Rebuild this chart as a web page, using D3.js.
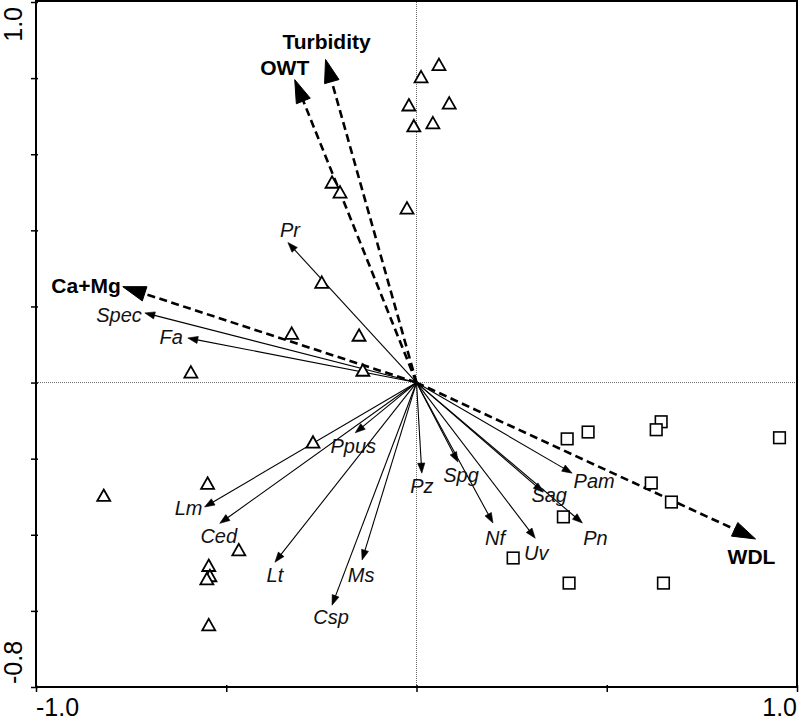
<!DOCTYPE html>
<html>
<head>
<meta charset="utf-8">
<script src="https://cdn.jsdelivr.net/npm/d3@7"></script>
<style>
  html, body { margin: 0; padding: 0; background: #fff; }
  svg { display: block; }
  text { font-family: Arial, "Liberation Sans", Helvetica, sans-serif; }
</style>
</head>
<body>
<svg id="chart" width="800" height="721"></svg>
<script>
// ---------------- data ----------------
const xTicks = [-1.0, -0.5, 0, 0.5, 1.0];
const yTicks = [-0.8, -0.6, -0.4, -0.2, 0, 0.2, 0.4, 0.6, 0.8, 1.0];
const xTickLabels = ["-1.0", "1.0"];
const xTickLabelValues = [-1.0, 1.0];
const yTickLabels = ["1.0", "-0.8"];
const yTickLabelValues = [1.0, -0.8];

// sites (triangles)
const triX = [-0.222, -0.201, -0.249, -0.328, -0.151, 0.059, 0.012, -0.020, 0.086, -0.007, 0.043, -0.025,
              -0.141, -0.593, -0.272, -0.549, -0.822, -0.467, -0.546, -0.543, -0.551, -0.546];
const triY = [0.525, 0.499, 0.262, 0.128, 0.123, 0.834, 0.802, 0.728, 0.733, 0.673, 0.681, 0.457,
              0.031, 0.026, -0.158, -0.266, -0.298, -0.441, -0.482, -0.509, -0.517, -0.638];

// sites (squares)
const sqX = [0.396, 0.451, 0.643, 0.630, 0.954, 0.617, 0.670, 0.386, 0.254, 0.401, 0.649];
const sqY = [-0.148, -0.130, -0.103, -0.124, -0.145, -0.264, -0.314, -0.353, -0.461, -0.527, -0.527];

// species arrows
const speciesNames = ["Pr", "Spec", "Fa", "Ppus", "Lm", "Ced", "Lt", "Ms", "Csp",
                      "Pz", "Spg", "Nf", "Uv", "Sag", "Pn", "Pam"];
const speciesX = [-0.338, -0.714, -0.601, -0.161, -0.557, -0.517, -0.372, -0.143, -0.222,
                  0.014, 0.109, 0.201, 0.312, 0.333, 0.436, 0.409];
const speciesY = [0.368, 0.183, 0.117, -0.132, -0.327, -0.370, -0.472, -0.466, -0.585,
                  -0.238, -0.209, -0.369, -0.409, -0.288, -0.369, -0.238];

// environmental arrows
const envNames = ["Turbidity", "OWT", "Ca+Mg", "WDL"];
const envX = [-0.239, -0.320, -0.772, 0.891];
const envY = [0.849, 0.796, 0.252, -0.411];

// ---------------- layout (label placement, px) ----------------
const speciesLabelLayout = {
  "Pr":   {dx: 2,  dy: -6,  anchor: "middle"},
  "Spec": {dx: -3, dy: 9,   anchor: "end"},
  "Fa":   {dx: -5, dy: 6,   anchor: "end"},
  "Ppus": {dx: -2, dy: 20,  anchor: "middle"},
  "Lm":   {dx: -2, dy: 8,   anchor: "end"},
  "Ced":  {dx: -1, dy: 20,  anchor: "middle"},
  "Lt":   {dx: 0,  dy: 20,  anchor: "middle"},
  "Ms":   {dx: -1, dy: 22,  anchor: "middle"},
  "Csp":  {dx: -1, dy: 19,  anchor: "middle"},
  "Pz":   {dx: 0,  dy: 20,  anchor: "middle"},
  "Spg":  {dx: 3,  dy: 20,  anchor: "middle"},
  "Nf":   {dx: 2,  dy: 22,  anchor: "middle"},
  "Uv":   {dx: 1,  dy: 22,  anchor: "middle"},
  "Sag":  {dx: 6,  dy: 10,  anchor: "middle"},
  "Pn":   {dx: 13, dy: 22,  anchor: "middle"},
  "Pam":  {dx: 22, dy: 15,  anchor: "middle"}
};
const envLabelLayout = {
  "Turbidity": {dx: 1,   dy: -10, anchor: "middle"},
  "OWT":       {dx: -10, dy: -5,  anchor: "middle"},
  "Ca+Mg":     {dx: -2,  dy: 6,   anchor: "end"},
  "WDL":       {dx: -4,  dy: 25,  anchor: "middle"}
};

// ---------------- chart ----------------
const svg = d3.select("#chart");
const x = d3.scaleLinear().domain([-1.0, 1.0]).range([36, 797]);
const y = d3.scaleLinear().domain([-0.8, 1.0]).range([687, 2]);

// reference lines through origin
svg.append("line")
  .attr("x1", x(-1)).attr("x2", x(1)).attr("y1", y(0)).attr("y2", y(0))
  .attr("stroke", "#444").attr("stroke-width", 0.8).attr("stroke-dasharray", "1,1");
svg.append("line")
  .attr("x1", x(0)).attr("x2", x(0)).attr("y1", y(-0.8)).attr("y2", y(1))
  .attr("stroke", "#444").attr("stroke-width", 0.8).attr("stroke-dasharray", "1,1");

// ticks via d3 axes
const gx = svg.append("g").attr("transform", `translate(0,${y(-0.8) - 2})`)
  .call(d3.axisBottom(x).tickValues(xTicks).tickSize(7).tickFormat(""));
const gy = svg.append("g").attr("transform", `translate(${x(-1) + 2},0)`)
  .call(d3.axisLeft(y).tickValues(yTicks).tickSize(7).tickFormat(""));
[gx, gy].forEach(g => {
  g.select(".domain").remove();
  g.selectAll(".tick line").attr("stroke", "#000").attr("stroke-width", 1.5);
});

// frame
svg.append("rect")
  .attr("x", x(-1)).attr("y", y(1) - 1)
  .attr("width", x(1) - x(-1)).attr("height", y(-0.8) - y(1) + 1)
  .attr("fill", "none").attr("stroke", "#000").attr("stroke-width", 2);

// tick labels
svg.selectAll(".xtl").data(xTickLabels).enter().append("text")
  .attr("x", (d, i) => x(xTickLabelValues[i]))
  .attr("y", 716)
  .attr("text-anchor", (d, i) => i === 0 ? "start" : "end")
  .attr("font-size", 25)
  .attr("fill", "#000")
  .text(d => d);
svg.selectAll(".ytl").data(yTickLabels).enter().append("text")
  .attr("transform", (d, i) => `translate(22,${y(yTickLabelValues[i]) + (i === 0 ? 5 : -3)}) rotate(-90)`)
  .attr("text-anchor", (d, i) => i === 0 ? "end" : "start")
  .attr("font-size", 25)
  .attr("fill", "#000")
  .text(d => d);

// helper for arrows
function arrowGeom(vx, vy, headLen, headHalf) {
  const x0 = x(0), y0 = y(0);
  const tx = x(vx), ty = y(vy);
  const dx = tx - x0, dy = ty - y0;
  const len = Math.hypot(dx, dy);
  const ux = dx / len, uy = dy / len;
  const bx = tx - ux * headLen, by = ty - uy * headLen;
  const nx = -uy, ny = ux;
  return {
    x0, y0, tx, ty, bx, by,
    head: [[tx, ty], [bx + nx * headHalf, by + ny * headHalf], [bx - nx * headHalf, by - ny * headHalf]]
  };
}

// species arrows
const species = speciesNames.map((n, i) => ({name: n, vx: speciesX[i], vy: speciesY[i]}));
const sg = svg.append("g");
species.forEach(s => {
  const g = arrowGeom(s.vx, s.vy, 10, 3.6);
  sg.append("line")
    .attr("x1", g.x0).attr("y1", g.y0).attr("x2", g.bx + (g.tx - g.bx) * 0.3).attr("y2", g.by + (g.ty - g.by) * 0.3)
    .attr("stroke", "#000").attr("stroke-width", 1.1);
  sg.append("path")
    .attr("d", d3.line()(g.head) + "Z")
    .attr("fill", "#000").attr("stroke", "#000").attr("stroke-width", 0.6);
});

// environmental arrows
const env = envNames.map((n, i) => ({name: n, vx: envX[i], vy: envY[i]}));
const eg = svg.append("g");
env.forEach(e => {
  const g = arrowGeom(e.vx, e.vy, 23, 7.5);
  eg.append("line")
    .attr("x1", g.x0).attr("y1", g.y0).attr("x2", g.bx).attr("y2", g.by)
    .attr("stroke", "#000").attr("stroke-width", 2.6).attr("stroke-dasharray", "8,4.5");
  eg.append("path")
    .attr("d", d3.line()(g.head) + "Z")
    .attr("fill", "#000").attr("stroke", "#000").attr("stroke-width", 1).attr("stroke-linejoin", "miter");
});

// site symbols
const tris = triX.map((v, i) => ({vx: v, vy: triY[i]}));
const sqs = sqX.map((v, i) => ({vx: v, vy: sqY[i]}));
svg.append("g").selectAll("path.tri").data(tris).enter().append("path")
  .attr("class", "tri")
  .attr("transform", d => `translate(${x(d.vx)},${y(d.vy)})`)
  .attr("d", "M0,-6.5L6.5,5L-6.5,5Z")
  .attr("fill", "#fff").attr("stroke", "#000").attr("stroke-width", 1.8).attr("stroke-linejoin", "miter");
svg.append("g").selectAll("rect.sq").data(sqs).enter().append("rect")
  .attr("class", "sq")
  .attr("x", d => x(d.vx) - 5.8).attr("y", d => y(d.vy) - 5.8)
  .attr("width", 11.6).attr("height", 11.6)
  .attr("fill", "#fff").attr("stroke", "#000").attr("stroke-width", 1.6);

// labels
species.forEach(s => {
  const L = speciesLabelLayout[s.name];
  svg.append("text")
    .attr("x", x(s.vx) + L.dx).attr("y", y(s.vy) + L.dy)
    .attr("text-anchor", L.anchor)
    .attr("font-size", 20).attr("font-style", "italic").attr("fill", "#111")
    .text(s.name);
});
env.forEach(e => {
  const L = envLabelLayout[e.name];
  svg.append("text")
    .attr("x", x(e.vx) + L.dx).attr("y", y(e.vy) + L.dy)
    .attr("text-anchor", L.anchor)
    .attr("font-size", 21).attr("font-weight", "bold").attr("fill", "#000")
    .text(e.name);
});
</script>
</body>
</html>
